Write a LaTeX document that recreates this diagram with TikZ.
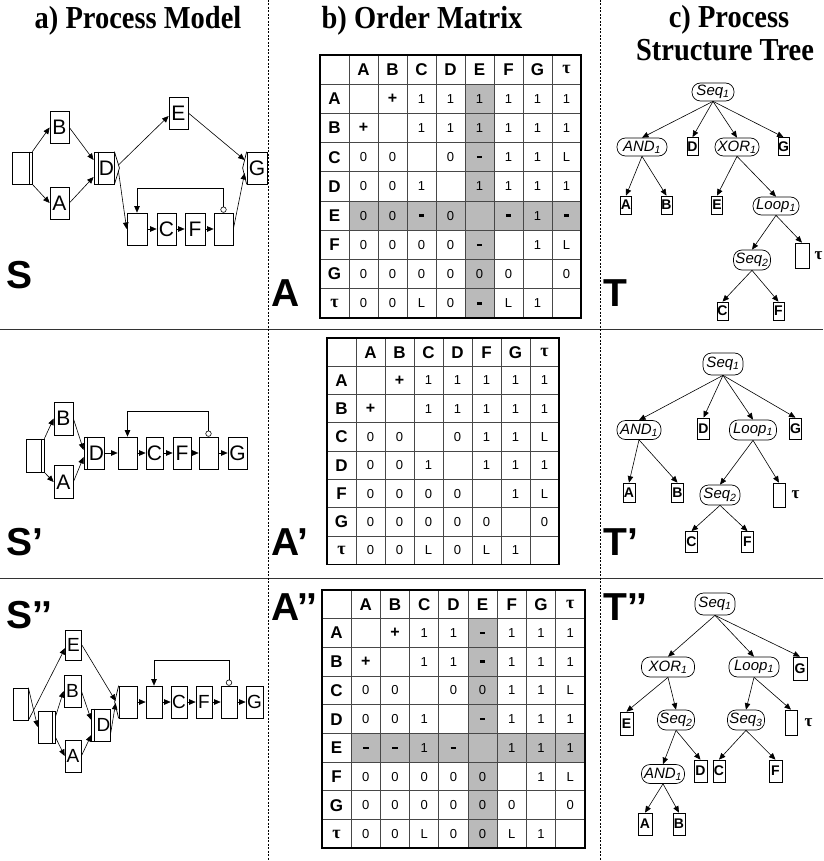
\documentclass[tikz,border=0pt]{standalone}
\usepackage{fontspec}
\setmainfont{Liberation Serif}
\setsansfont{Liberation Sans}
\usetikzlibrary{arrows.meta,calc}
\newcommand\ec{}
\newcommand\mplus{{\bfseries\fontsize{16}{16}\selectfont +}}
\newcommand\mminus{\rule{5.5pt}{2.6pt}}
\newcommand\ttau{{\rmfamily\bfseries\fontsize{18}{18}\selectfont τ}}
\tikzset{
 arr/.style={-{Triangle[length=6.5pt,width=5.5pt]}, line width=0.6pt},
 pbox/.style={draw, line width=0.7pt, inner sep=0pt, minimum width=19pt, minimum height=32pt, font=\sffamily\fontsize{21}{21}\selectfont},
 qbox/.style={pbox, minimum width=16pt, font=\sffamily\fontsize{19}{19}\selectfont},
 tnode/.style={draw, rectangle, rounded corners=8.5pt, line width=0.7pt, inner sep=1pt, minimum height=18pt, font=\sffamily\itshape\fontsize{15}{15}\selectfont},
 leaf/.style={draw, line width=0.7pt, inner sep=0pt, minimum width=12pt, minimum height=21pt, font=\sffamily\bfseries\fontsize{14}{14}\selectfont},
 sleaf/.style={leaf, minimum width=11pt, minimum height=18pt},
 taulbl/.style={anchor=west, inner sep=0pt, font=\rmfamily\bfseries\fontsize{17}{17}\selectfont},
 hdr/.style={inner sep=0pt, font=\sffamily\bfseries\fontsize{17}{17}\selectfont},
 cell/.style={inner sep=0pt, font=\sffamily\fontsize{13}{13}\selectfont},
 big/.style={anchor=base west, inner sep=0pt, font=\sffamily\bfseries\fontsize{39}{39}\selectfont},
 title/.style={anchor=base, inner sep=0pt, font=\bfseries\fontsize{32}{32}\selectfont, xscale=0.89},
 gridl/.style={line width=1pt, black!72},
 frame/.style={line width=1.8pt},
 shade/.style={fill=black!27},
 sep/.style={line width=0.8pt, black!80},
 dsep/.style={line width=0.7pt, dash pattern=on 2pt off 1.5pt},
 thin/.style={line width=0.7pt},
 loopc/.style={draw, circle, inner sep=0pt, minimum size=5.5pt, line width=0.6pt}
}
% #1 name, #2 x0, #3 y0, #4 cw, #5 rh, #6 n, #7 header list, #8 rows
\newcommand\omat[8]{%
  \pgfmathtruncatemacro\nm{#6-1}%
  \foreach \i in {1,...,\nm}{%
    \draw[gridl] ({#2+\i*#4},#3) -- ({#2+\i*#4},{#3+#6*#5});
    \draw[gridl] (#2,{#3+\i*#5}) -- ({#2+#6*#4},{#3+\i*#5});
  }%
  \draw[frame] (#2,#3) rectangle ({#2+#6*#4},{#3+#6*#5});
  \foreach \h [count=\c] in {#7}{%
    \node[hdr] (#1-0-\c) at ({#2+(\c-0.5)*#4},{#3+0.5*#5}) {\h};
  }%
  \foreach \row [count=\r] in {#8}{%
    \foreach \v [count=\c] in \row {%
      \ifnum\c=1
        \node[hdr] (#1-\r-\c) at ({#2+0.5*#4},{#3+(\r+0.5)*#5}) {\v};
      \else
        \node[cell] (#1-\r-\c) at ({#2+(\c-0.5)*#4},{#3+(\r+0.5)*#5}) {\v};
      \fi
    }%
  }%
}
\begin{document}
\begin{tikzpicture}[x=1pt,y=-1pt]
\useasboundingbox (0,0) rectangle (823,861);
% separators
\draw[sep] (0,329) -- (823,329);
\draw[sep] (0,578) -- (823,578);
\draw[dsep] (268,0) -- (268,861);
\draw[dsep] (600,0) -- (600,861);
% titles
\node[title] (ta) at (138,29) {a) Process Model};
\node[title] (tb) at (422,29) {b) Order Matrix};
\node[title] (tc1) at (729,28) {c) Process};
\node[title] (tc2) at (725,61) {Structure Tree};
% big labels
\node[big] (lS) at (6,288) {S};
\node[big] (lA) at (271,306) {A};
\node[big] (lT) at (603,306) {T};
\node[big] (lS1) at (6,555) {S’};
\node[big] (lA1) at (271,555) {A’};
\node[big] (lT1) at (603,555) {T’};
\node[big] (lS2) at (6,628) {S’’};
\node[big] (lA2) at (271,620) {A’’};
\node[big] (lT2) at (603,620) {T’’};

% ---------- Process model S ----------
\node[pbox, minimum width=20pt] (s0) at (22,168) {};
\node[pbox] (sB) at (59.5,127.5) {B};
\node[pbox] (sA) at (59.5,203) {A};
\node[pbox, minimum width=20pt] (sD) at (104,168) {\hspace*{5pt}D};
\node[pbox] (sE) at (178.5,113) {E};
\node[pbox, minimum width=20pt] (sG) at (257,168) {G};
\node[pbox, minimum width=20pt] (sL1) at (137,229) {};
\node[pbox] (sC) at (166.5,229) {C};
\node[pbox, minimum width=20pt] (sF) at (195,229) {F};
\node[pbox] (sL2) at (223.5,229) {};
\draw[thin] ($(s0.north east)+(-3,0)$) -- ($(s0.south east)+(-3,0)$);
\draw[thin] ($(sD.north west)+(5,0)$) -- ($(sD.south west)+(5,0)$);
\draw[thin] (sD.north east) -- ($(sD.east)+(5,0)$) -- (sD.south east);
\draw[thin] (sG.north west) -- ($(sG.west)+(-4,0)$) -- (sG.south west);
\draw[arr] (s0.north east) -- (sB.west);
\draw[arr] (s0.south east) -- (sA.west);
\draw[arr] (sB.east) -- ($(sD.west)+(0,-8)$);
\draw[arr] (sA.east) -- ($(sD.west)+(0,9)$);
\draw[arr] ($(sD.east)+(4,-3)$) -- ($(sE.west)+(0,3)$);
\draw[arr] ($(sD.east)+(4,3)$) -- (sL1.west);
\draw[arr] (sE.east) -- ($(sG.west)+(-2,-8)$);
\draw[arr] (sL2.east) -- ($(sG.west)+(-2,5)$);
\draw[arr] (sL1) -- (sC);
\draw[arr] (sC) -- (sF);
\draw[arr] (sF) -- (sL2);
\node[loopc] (sO) at ($(sL2.north)+(0,-3)$) {};
\draw[arr] (sO.north) -- ++(0,-18) -| (sL1.north);

% ---------- Process model S' ----------
\node[pbox, minimum width=18pt, minimum height=33pt] (p0) at (35,455.5) {};
\node[pbox, minimum height=33pt] (pB) at (63.5,418.5) {B};
\node[pbox, minimum height=33pt] (pA) at (63.5,482) {A};
\node[pbox, minimum width=18pt] (pD) at (94,453) {\hspace*{5pt}D};
\node[pbox] (pL1) at (127.5,453) {};
\node[pbox, minimum width=17pt] (pC) at (154.5,453) {C};
\node[pbox, minimum width=18pt] (pF) at (182,453) {F};
\node[pbox] (pL2) at (208.5,453) {};
\node[pbox] (pG) at (237.5,453) {G};
\draw[thin] ($(p0.north east)+(-3,0)$) -- ($(p0.south east)+(-3,0)$);
\draw[thin] ($(pD.north west)+(4,0)$) -- ($(pD.south west)+(4,0)$);
\draw[arr] (p0.north east) -- (pB.west);
\draw[arr] (p0.south east) -- (pA.west);
\draw[arr] (pB.east) -- ($(pD.west)+(0,-3)$);
\draw[arr] (pA.east) -- ($(pD.west)+(0,4)$);
\draw[arr] (pD) -- (pL1);
\draw[arr] (pL1) -- (pC);
\draw[arr] (pC) -- (pF);
\draw[arr] (pF) -- (pL2);
\draw[arr] (pL2) -- (pG);
\node[loopc] (pO) at ($(pL2.north)+(0,-3)$) {};
\draw[arr] (pO.north) -- ++(0,-19) -| (pL1.north);

% ---------- Process model S'' ----------
\node[qbox, minimum width=15pt] (q0) at (20.5,704) {};
\node[qbox, minimum width=17pt] (qAS) at (46.5,727) {};
\node[qbox, minimum height=30pt] (qE) at (73.5,645) {E};
\node[qbox, minimum width=17pt] (qB) at (72.5,691) {B};
\node[qbox] (qA) at (73,756) {A};
\node[qbox] (qD) at (101,725) {\hspace*{5pt}D};
\node[qbox, minimum width=18pt] (qX) at (128,702) {};
\node[qbox] (qL1) at (154,702) {};
\node[qbox] (qC) at (179,702) {C};
\node[qbox] (qF) at (204,702) {F};
\node[qbox] (qL2) at (229,702) {};
\node[qbox, minimum width=17pt] (qG) at (254.5,702) {G};
\draw[thin] ($(qAS.north east)+(-3,0)$) -- ($(qAS.south east)+(-3,0)$);
\draw[thin] ($(qD.north west)+(3,0)$) -- ($(qD.south west)+(3,0)$);
\draw[thin] (qX.north west) -- ($(qX.west)+(-4,0)$) -- (qX.south west);
\draw[arr] (q0.south east) -- ($(qE.west)+(0,3)$);
\draw[arr] (q0.north east) -- (qAS.west);
\draw[arr] ($(qAS.east)+(0,-10)$) -- (qB.west);
\draw[arr] ($(qAS.east)+(0,10)$) -- (qA.west);
\draw[arr] (qB.east) -- ($(qD.west)+(0,-5)$);
\draw[arr] (qA.east) -- ($(qD.west)+(0,10)$);
\draw[arr] (qE.east) -- ($(qX.west)+(-3,-1)$);
\draw[arr] ($(qD.east)+(0,8)$) -- ($(qX.west)+(-3,1)$);
\draw[arr] (qX) -- (qL1);
\draw[arr] (qL1) -- (qC);
\draw[arr] (qC) -- (qF);
\draw[arr] (qF) -- (qL2);
\draw[arr] (qL2) -- (qG);
\node[loopc] (qO) at ($(qL2.north)+(0,-3)$) {};
\draw[arr] (qO.north) -- ++(0,-19) -| (qL1.north);

% ---------- Order matrix A ----------
\fill[shade] ({320+5*29},{55+29.2}) rectangle ({320+6*29},{55+9*29.2});
\fill[shade] ({320+29},{55+5*29.2}) rectangle ({320+9*29},{55+6*29.2});
\omat{mA}{320}{55}{29}{29.2}{9}{\ec,A,B,C,D,E,F,G,\ttau}{
 {A,\ec,\mplus,1,1,1,1,1,1},
 {B,\mplus,\ec,1,1,1,1,1,1},
 {C,0,0,\ec,0,\mminus,1,1,L},
 {D,0,0,1,\ec,1,1,1,1},
 {E,0,0,\mminus,0,\ec,\mminus,1,\mminus},
 {F,0,0,0,0,\mminus,\ec,1,L},
 {G,0,0,0,0,0,0,\ec,0},
 {\ttau,0,0,L,0,\mminus,L,1,\ec}}

% ---------- Order matrix A' ----------
\omat{mP}{327}{338}{29}{28.3}{8}{\ec,A,B,C,D,F,G,\ttau}{
 {A,\ec,\mplus,1,1,1,1,1},
 {B,\mplus,\ec,1,1,1,1,1},
 {C,0,0,\ec,0,1,1,L},
 {D,0,0,1,\ec,1,1,1},
 {F,0,0,0,0,\ec,1,L},
 {G,0,0,0,0,0,\ec,0},
 {\ttau,0,0,L,0,L,1,\ec}}

% ---------- Order matrix A'' ----------
\fill[shade] ({322+5*29.2},{590+28.7}) rectangle ({322+6*29.2},{590+9*28.7});
\fill[shade] ({322+29.2},{590+5*28.7}) rectangle ({322+9*29.2},{590+6*28.7});
\omat{mQ}{322}{590}{29.2}{28.7}{9}{\ec,A,B,C,D,E,F,G,\ttau}{
 {A,\ec,\mplus,1,1,\mminus,1,1,1},
 {B,\mplus,\ec,1,1,\mminus,1,1,1},
 {C,0,0,\ec,0,0,1,1,L},
 {D,0,0,1,\ec,\mminus,1,1,1},
 {E,\mminus,\mminus,1,\mminus,\ec,1,1,1},
 {F,0,0,0,0,0,\ec,1,L},
 {G,0,0,0,0,0,0,\ec,0},
 {\ttau,0,0,L,0,0,L,1,\ec}}

% ---------- Tree T ----------
\node[tnode, minimum width=42pt] (t1seq1) at (713,92) {Seq\textsubscript{1}};
\node[tnode, minimum width=50pt] (t1and1) at (642,147) {AND\textsubscript{1}};
\node[sleaf] (t1D) at (692.5,146.5) {D};
\node[tnode, minimum width=44pt] (t1xor1) at (737,147) {XOR\textsubscript{1}};
\node[sleaf] (t1G) at (783.5,146.5) {G};
\node[sleaf] (t1A) at (626,205) {A};
\node[sleaf] (t1B) at (666.5,205) {B};
\node[sleaf] (t1E) at (717,205) {E};
\node[tnode, minimum width=46pt] (t1loop1) at (776,206) {Loop\textsubscript{1}};
\node[tnode, minimum width=37pt, minimum height=20pt] (t1seq2) at (752,260) {Seq\textsubscript{2}};
\node[leaf, minimum width=14pt, minimum height=25pt] (t1tau) at (802,255.5) {};
\node[taulbl] (t1taul) at ($(t1tau.east)+(5,0)$) {τ};
\node[sleaf] (t1C) at (722.5,311) {C};
\node[sleaf] (t1F) at (778.5,311) {F};
\foreach \a/\b in {t1seq1/t1and1,t1seq1/t1D,t1seq1/t1xor1,t1seq1/t1G,t1and1/t1A,t1and1/t1B,t1xor1/t1E,t1xor1/t1loop1,t1loop1/t1seq2,t1loop1/t1tau,t1seq2/t1C,t1seq2/t1F}
  \draw[arr] (\a.south) -- (\b.north);

% ---------- Tree T' ----------
\node[tnode, minimum width=40pt, minimum height=22pt] (t2seq1) at (723,364) {Seq\textsubscript{1}};
\node[tnode, minimum width=44pt, minimum height=19pt] (t2and1) at (639,430) {AND\textsubscript{1}};
\node[leaf] (t2D) at (703.5,428.5) {D};
\node[tnode, minimum width=47pt, minimum height=20pt] (t2loop1) at (753,430) {Loop\textsubscript{1}};
\node[leaf] (t2G) at (795.5,428.5) {G};
\node[leaf, minimum height=19pt] (t2A) at (629,492.5) {A};
\node[leaf, minimum height=19pt] (t2B) at (677.5,492.5) {B};
\node[tnode, minimum width=40pt, minimum height=20pt] (t2seq2) at (720,495) {Seq\textsubscript{2}};
\node[leaf, minimum height=24pt] (t2tau) at (779,495) {};
\node[taulbl] (t2taul) at ($(t2tau.east)+(6,0)$) {τ};
\node[leaf] (t2C) at (691.5,542) {C};
\node[leaf] (t2F) at (747.5,542) {F};
\foreach \a/\b in {t2seq1/t2and1,t2seq1/t2D,t2seq1/t2loop1,t2seq1/t2G,t2and1/t2A,t2and1/t2B,t2loop1/t2seq2,t2loop1/t2tau,t2seq2/t2C,t2seq2/t2F}
  \draw[arr] (\a.south) -- (\b.north);

% ---------- Tree T'' ----------
\node[tnode, minimum width=40pt, minimum height=22pt] (t3seq1) at (715,604) {Seq\textsubscript{1}};
\node[tnode, minimum width=53pt, minimum height=20pt] (t3xor1) at (668,667) {XOR\textsubscript{1}};
\node[tnode, minimum width=50pt, minimum height=20pt] (t3loop1) at (754,667) {Loop\textsubscript{1}};
\node[leaf, minimum width=14pt, minimum height=23pt] (t3G) at (800,668.5) {G};
\node[leaf, minimum width=13pt, minimum height=23pt] (t3E) at (626.5,723.5) {E};
\node[tnode, minimum width=37pt, minimum height=20pt] (t3seq2) at (676,720) {Seq\textsubscript{2}};
\node[tnode, minimum width=37pt, minimum height=20pt] (t3seq3) at (746,720) {Seq\textsubscript{3}};
\node[leaf, minimum height=25pt] (t3tau) at (791,722.5) {};
\node[taulbl] (t3taul) at ($(t3tau.east)+(7,0)$) {τ};
\node[tnode, minimum width=43pt, minimum height=19pt] (t3and1) at (663,774) {AND\textsubscript{1}};
\node[leaf, minimum width=13pt, minimum height=22pt] (t3D) at (700.5,771) {D};
\node[leaf, minimum height=22pt] (t3C) at (719,771) {C};
\node[leaf, minimum width=13pt, minimum height=22pt] (t3F) at (775.5,771) {F};
\node[leaf, minimum width=14pt, minimum height=22pt] (t3A) at (645,824) {A};
\node[leaf, minimum height=22pt] (t3B) at (679,824) {B};
\foreach \a/\b in {t3seq1/t3xor1,t3seq1/t3loop1,t3seq1/t3G,t3xor1/t3E,t3xor1/t3seq2,t3seq2/t3and1,t3seq2/t3D,t3loop1/t3seq3,t3loop1/t3tau,t3seq3/t3C,t3seq3/t3F,t3and1/t3A,t3and1/t3B}
  \draw[arr] (\a.south) -- (\b.north);
\end{tikzpicture}
\end{document}
